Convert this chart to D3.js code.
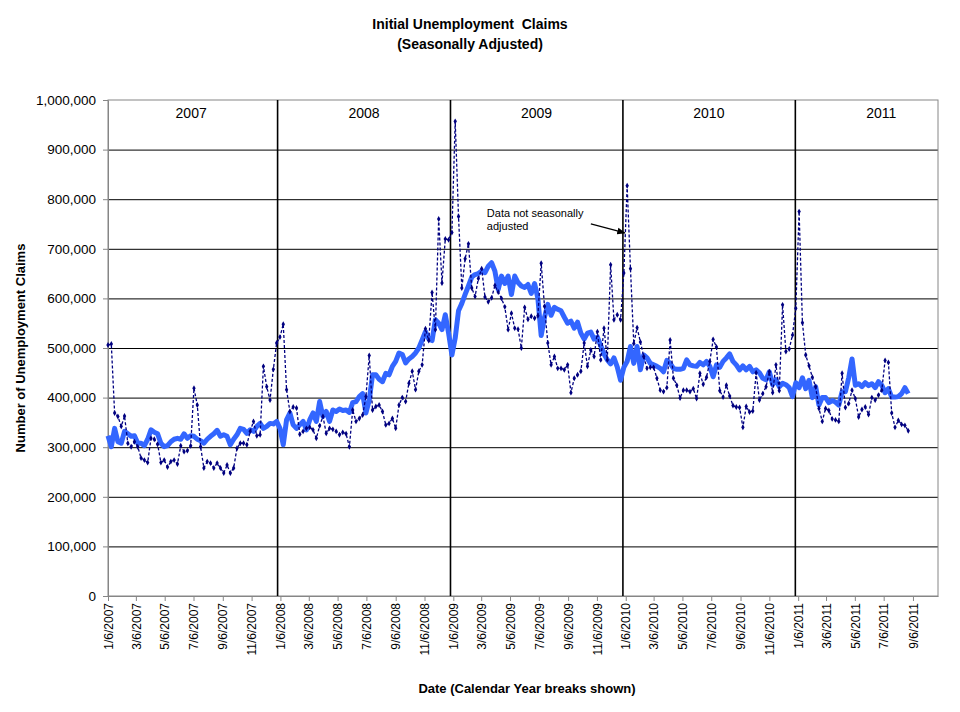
<!DOCTYPE html>
<html>
<head>
<meta charset="utf-8">
<script src="https://cdn.jsdelivr.net/npm/d3@7"></script>
<style>
body { margin: 0; background: #fff; }
text { font-family: Arial, "Liberation Sans", sans-serif; }
</style>
</head>
<body>
<div id="chart"></div>
<script>
// weekly initial claims in thousands, week ending Saturday, first week 1/6/2007
var firstWeek = "1/6/2007";

// not seasonally adjusted
var nsa2007 = [506,508,369,362,342,363,308,301,311,301,278,274,269,318,316,306,269,274,260,271,
    274,266,303,291,293,303,419,385,301,258,271,268,258,268,258,248,264,248,258,298,
    308,308,305,332,352,323,325,463,422,395,457,510];
var nsa2008 = [522,548,416,372,381,379,326,332,338,340,335,318,343,362,328,338,336,332,325,330,
    327,301,375,352,358,365,402,485,375,382,385,372,345,348,358,338,385,400,392,429,
    453,416,453,466,539,515,612,537,760,631,720,718];
var nsa2009 = [733,957,765,621,680,710,621,604,640,660,603,593,601,626,613,600,583,537,570,540,
    538,500,582,558,564,560,565,671,584,510,466,483,459,459,456,466,410,439,446,453,
    510,463,496,483,533,476,540,476,668,557,567,557];
var nsa2010 = [651,827,660,509,541,512,483,459,461,461,439,415,412,420,516,439,425,399,415,415,
    412,418,398,449,427,441,473,517,502,414,401,425,403,384,381,380,340,382,371,373,
    450,395,408,422,452,410,466,414,587,493,498,526];
var nsa2011 = [580,775,551,486,464,441,422,378,352,378,374,357,355,352,449,380,388,415,398,361,
    376,381,366,400,395,405,415,475,471,369,340,354,346,344,333];

// seasonally adjusted
var sa2007 = [323,301,338,311,308,332,327,322,323,308,308,303,316,335,330,327,308,301,303,311,
    316,318,316,327,318,323,322,316,313,308,316,322,327,334,322,325,322,305,316,325,
    338,336,328,335,332,342,348,338,342,348,347,352];
var sa2008 = [338,305,355,369,345,338,345,352,335,355,369,352,392,362,372,352,375,372,377,374,
    375,370,390,392,402,408,369,395,446,446,437,432,449,446,463,473,490,487,470,478,
    483,490,500,516,533,518,515,557,550,537,567,530];
var sa2009 = [486,520,575,590,608,625,643,648,650,655,652,665,672,655,618,645,630,645,608,645,
    632,625,622,628,610,630,600,525,562,588,566,582,578,575,562,550,554,540,552,530,
    518,530,532,518,522,505,488,476,468,480,462,435];
var sa2010 = [461,473,503,469,503,456,486,480,469,466,463,459,452,475,469,459,457,457,459,476,
    466,464,463,471,466,473,463,442,466,461,473,480,488,473,466,456,464,456,463,452,
    456,450,439,436,452,426,436,422,429,426,420,402];
var sa2011 = [430,420,440,418,435,400,422,385,400,400,390,394,391,385,412,412,440,478,425,428,
    422,430,424,428,420,432,425,410,418,401,401,402,408,420,408];

var tickLabels = ["1/6/2007","3/6/2007","5/6/2007","7/6/2007","9/6/2007","11/6/2007",
    "1/6/2008","3/6/2008","5/6/2008","7/6/2008","9/6/2008","11/6/2008",
    "1/6/2009","3/6/2009","5/6/2009","7/6/2009","9/6/2009","11/6/2009",
    "1/6/2010","3/6/2010","5/6/2010","7/6/2010","9/6/2010","11/6/2010",
    "1/6/2011","3/6/2011","5/6/2011","7/6/2011","9/6/2011"];
var axisEnd = "10/29/2011";
var years = [2007, 2008, 2009, 2010, 2011];
var yTicks = [0,100000,200000,300000,400000,500000,600000,700000,800000,900000,1000000];
var note = {lines: ["Data not seasonally", "adjusted"], week: "1/2/2010", value: 730000};

var parse = d3.timeParse("%m/%d/%Y");
var start = parse(firstWeek);
var nsa = [].concat(nsa2007, nsa2008, nsa2009, nsa2010, nsa2011);
var sa = [].concat(sa2007, sa2008, sa2009, sa2010, sa2011);
var weeks = nsa.map(function(v, i) { return d3.timeDay.offset(start, 7 * i); });

var margin = {top: 100, right: 22, bottom: 116, left: 108},
    width = 960 - margin.left - margin.right,
    height = 712 - margin.top - margin.bottom;

var svg = d3.select("#chart")
  .append("svg")
    .attr("width", 960)
    .attr("height", 712);

var g = svg.append("g")
    .attr("transform", "translate(" + margin.left + "," + margin.top + ")");

var x = d3.scaleTime()
    .domain([start, parse(axisEnd)])
    .range([0, width]);

var y = d3.scaleLinear()
    .domain([0, 1000000])
    .range([height, 0]);

// horizontal grid
g.append("g")
    .attr("class", "grid")
    .call(d3.axisLeft(y).tickValues(yTicks.slice(1, -1)).tickSize(-width).tickFormat(""))
    .call(function(s) { s.select(".domain").remove(); })
    .selectAll("line")
    .style("stroke", "#000")
    .style("stroke-width", 1);

// plot frame
g.append("rect")
    .attr("width", width)
    .attr("height", height)
    .attr("fill", "none")
    .attr("stroke", "#868686")
    .attr("stroke-width", 1);

// calendar year breaks
g.selectAll(".yearline")
  .data(years.slice(1))
  .enter()
  .append("line")
    .attr("x1", function(d) { return x(new Date(d - 1, 11, 31)); })
    .attr("x2", function(d) { return x(new Date(d - 1, 11, 31)); })
    .attr("y1", 0)
    .attr("y2", height)
    .style("stroke", "#000")
    .style("stroke-width", 1.6);

g.selectAll(".yearlabel")
  .data(years)
  .enter()
  .append("text")
    .attr("x", function(d) { return x(new Date(d, 6, 1)); })
    .attr("y", 18)
    .attr("text-anchor", "middle")
    .style("font-size", "14px")
    .text(function(d) { return d; });

// axes
var xAxis = g.append("g")
    .attr("transform", "translate(0," + height + ")")
    .call(d3.axisBottom(x)
        .tickValues(tickLabels.map(parse))
        .tickFormat(function(d, i) { return tickLabels[i]; })
        .tickSize(5)
        .tickSizeOuter(0));
xAxis.select(".domain").style("stroke", "#868686");
xAxis.selectAll(".tick line").style("stroke", "#868686");
xAxis.selectAll("text")
    .attr("transform", "rotate(-90)")
    .attr("x", -7)
    .attr("y", 0)
    .attr("dy", "0.35em")
    .style("text-anchor", "end")
    .style("font-size", "12px")
    .style("fill", "#000");

var yAxis = g.append("g")
    .call(d3.axisLeft(y)
        .tickValues(yTicks)
        .tickFormat(d3.format(","))
        .tickSize(5)
        .tickPadding(7)
        .tickSizeOuter(0));
yAxis.select(".domain").style("stroke", "#868686");
yAxis.selectAll(".tick line").style("stroke", "#868686");
yAxis.selectAll("text")
    .style("font-size", "13.5px")
    .style("fill", "#000");

// seasonally adjusted series
var line = d3.line()
    .x(function(d, i) { return x(weeks[i]); })
    .y(function(d) { return y(d * 1000); });

g.append("path")
    .datum(sa)
    .attr("fill", "none")
    .attr("stroke", "#3366ff")
    .attr("stroke-width", 5)
    .attr("stroke-linejoin", "round")
    .attr("d", line);

// not seasonally adjusted series
g.append("path")
    .datum(nsa)
    .attr("fill", "none")
    .attr("stroke", "#000080")
    .attr("stroke-width", 1.3)
    .attr("stroke-dasharray", "3,2")
    .attr("d", line);

g.selectAll(".pt")
  .data(nsa)
  .enter()
  .append("path")
    .attr("class", "pt")
    .attr("transform", function(d, i) { return "translate(" + x(weeks[i]) + "," + y(d * 1000) + ")"; })
    .attr("d", d3.symbol().type(d3.symbolDiamond).size(10))
    .style("fill", "#000080");

// annotation
svg.append("defs").append("marker")
    .attr("id", "arrow")
    .attr("viewBox", "0 0 10 10")
    .attr("refX", 9)
    .attr("refY", 5)
    .attr("markerWidth", 7)
    .attr("markerHeight", 7)
    .attr("orient", "auto")
  .append("path")
    .attr("d", "M0,1L10,5L0,9z")
    .style("fill", "#000");

var nx = x(parse(note.week)), ny = y(note.value);
g.append("line")
    .attr("x1", nx - 33)
    .attr("y1", ny - 10)
    .attr("x2", nx + 1)
    .attr("y2", ny - 1)
    .style("stroke", "#000")
    .style("stroke-width", 1.2)
    .attr("marker-end", "url(#arrow)");

g.append("text")
    .attr("x", nx - 137)
    .attr("y", ny - 17)
    .style("font-size", "11px")
    .selectAll("tspan")
    .data(note.lines)
    .enter()
    .append("tspan")
      .attr("x", nx - 137)
      .attr("dy", function(d, i) { return i ? 13 : 0; })
      .text(function(d) { return d; });

// titles
svg.append("text")
    .attr("x", 470)
    .attr("y", 29)
    .attr("text-anchor", "middle")
    .style("font-size", "14px")
    .style("font-weight", "bold")
    .style("white-space", "pre")
    .text("Initial Unemployment  Claims");

svg.append("text")
    .attr("x", 470)
    .attr("y", 49)
    .attr("text-anchor", "middle")
    .style("font-size", "14px")
    .style("font-weight", "bold")
    .text("(Seasonally Adjusted)");

svg.append("text")
    .attr("transform", "translate(25," + (margin.top + height / 2) + ") rotate(-90)")
    .attr("text-anchor", "middle")
    .style("font-size", "13px")
    .style("font-weight", "bold")
    .text("Number of Unemployment Claims");

svg.append("text")
    .attr("x", 527)
    .attr("y", 693)
    .attr("text-anchor", "middle")
    .style("font-size", "13px")
    .style("font-weight", "bold")
    .text("Date (Calendar Year breaks shown)");
</script>
</body>
</html>
